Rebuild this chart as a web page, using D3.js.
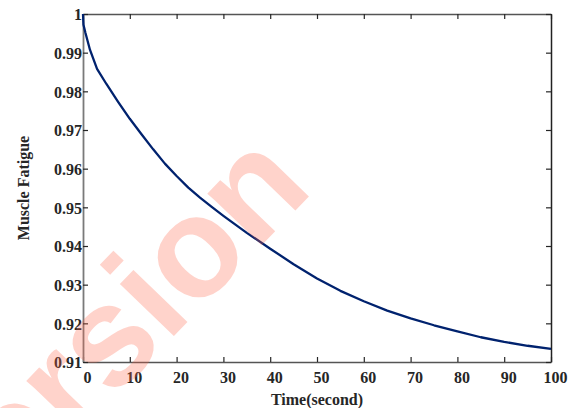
<!DOCTYPE html>
<html>
<head>
<meta charset="utf-8">
<script src="https://cdn.jsdelivr.net/npm/d3@7"></script>
<style>
  body { margin: 0; background: #fff; }
  svg { display: block; }
  text { font-family: "Liberation Serif", "Times New Roman", serif; font-weight: bold; }
</style>
</head>
<body>
<div class="chart"></div>
<script>
// data
const times = [0, 0.1, 0.5, 1.5, 3, 5, 7.5, 10, 12.5, 15, 17.5, 20, 22.5, 25, 27.5, 30, 35, 40, 45, 50, 55, 60, 65, 70, 75, 80, 85, 90, 95, 100];
const fatigue = [1.0, 0.9972, 0.9952, 0.9907, 0.9858, 0.9819, 0.9773, 0.9729, 0.9689, 0.9650, 0.9613, 0.9581, 0.9551, 0.9525, 0.9501, 0.9478, 0.9434, 0.9393, 0.9353, 0.9316, 0.9284, 0.9257, 0.9233, 0.9213, 0.9195, 0.9179, 0.9164, 0.9152, 0.9142, 0.9134];

const xTicks = [0, 10, 20, 30, 40, 50, 60, 70, 80, 90, 100];
const yTicks = [0.91, 0.92, 0.93, 0.94, 0.95, 0.96, 0.97, 0.98, 0.99, 1];
const yTickLabels = ["0.91", "0.92", "0.93", "0.94", "0.95", "0.96", "0.97", "0.98", "0.99", "1"];

const w = 575,
  h = 408;
const mLeft = 83,
  mRight = 551,
  mTop = 14,
  mBottom = 362;

const svg = d3
  .select(".chart")
  .append("svg")
  .attr("width", w)
  .attr("height", h);

const translateFn = (x, y = 0) => `translate(${x}, ${y})`;

const xScale = d3.scaleLinear().domain([0, 100]).range([mLeft, mRight]);
const yScale = d3.scaleLinear().domain([0.91, 1]).range([mBottom, mTop]);

// axes, ticks pointing inward like matlab
const xAxis = d3.axisBottom(xScale).tickValues(xTicks).tickSizeInner(-5).tickSizeOuter(0).tickPadding(10);
const xAxisTop = d3.axisTop(xScale).tickValues(xTicks).tickSizeInner(-5).tickSizeOuter(0).tickFormat("");
const yAxis = d3
  .axisLeft(yScale)
  .tickValues(yTicks)
  .tickSizeInner(-5)
  .tickSizeOuter(0)
  .tickPadding(1)
  .tickFormat((d, i) => yTickLabels[i]);
const yAxisRight = d3.axisRight(yScale).tickValues(yTicks).tickSizeInner(-5).tickSizeOuter(0).tickFormat("");

const gx = svg.append("g").attr("transform", translateFn(0, mBottom)).call(xAxis);
const gxTop = svg.append("g").attr("transform", translateFn(0, mTop)).call(xAxisTop);
const gy = svg.append("g").attr("transform", translateFn(mLeft, 0)).call(yAxis);
const gyRight = svg.append("g").attr("transform", translateFn(mRight, 0)).call(yAxisRight);

[gx, gxTop, gy, gyRight].forEach((g) => {
  g.selectAll("text").style("font-size", "16px").attr("fill", "#262626");
  g.selectAll(".tick line").attr("stroke", "#262626").attr("stroke-width", 1.2);
});
gx.select(".domain").attr("stroke", "#555").attr("stroke-width", 1.5);
gxTop.select(".domain").attr("stroke", "#555").attr("stroke-width", 1.5);
gy.select(".domain").attr("stroke", "#7a7a7a").attr("stroke-width", 1.8);
gyRight.select(".domain").attr("stroke", "#222").attr("stroke-width", 1.5);

gx.selectAll(".tick text").attr("dx", 4);
gy.selectAll(".tick text").attr("dy", "0.36em");

// curve
const line = d3
  .line()
  .x((d, i) => xScale(times[i]))
  .y((d) => yScale(d));

svg
  .append("path")
  .datum(fatigue)
  .attr("d", line)
  .attr("fill", "none")
  .attr("stroke", "#00226e")
  .attr("stroke-width", 2.3)
  .attr("stroke-linejoin", "round");

// axis titles
svg
  .append("text")
  .attr("transform", "rotate(-90)")
  .attr("x", -(mTop + mBottom) / 2)
  .attr("y", 29)
  .attr("text-anchor", "middle")
  .style("font-size", "16px")
  .attr("fill", "#262626")
  .text("Muscle Fatigue");

svg
  .append("text")
  .attr("x", (mLeft + mRight) / 2)
  .attr("y", 405)
  .attr("text-anchor", "middle")
  .style("font-size", "16px")
  .attr("fill", "#262626")
  .text("Time(second)");

// watermark
svg
  .append("text")
  .attr("transform", "translate(315, 190) rotate(-46)")
  .attr("text-anchor", "end")
  .style("font-family", "'Liberation Sans', Arial, sans-serif")
  .style("font-weight", "bold")
  .style("font-size", "142px")
  .attr("fill", "#ff6347")
  .attr("opacity", 0.28)
  .text("Version");
</script>
</body>
</html>
